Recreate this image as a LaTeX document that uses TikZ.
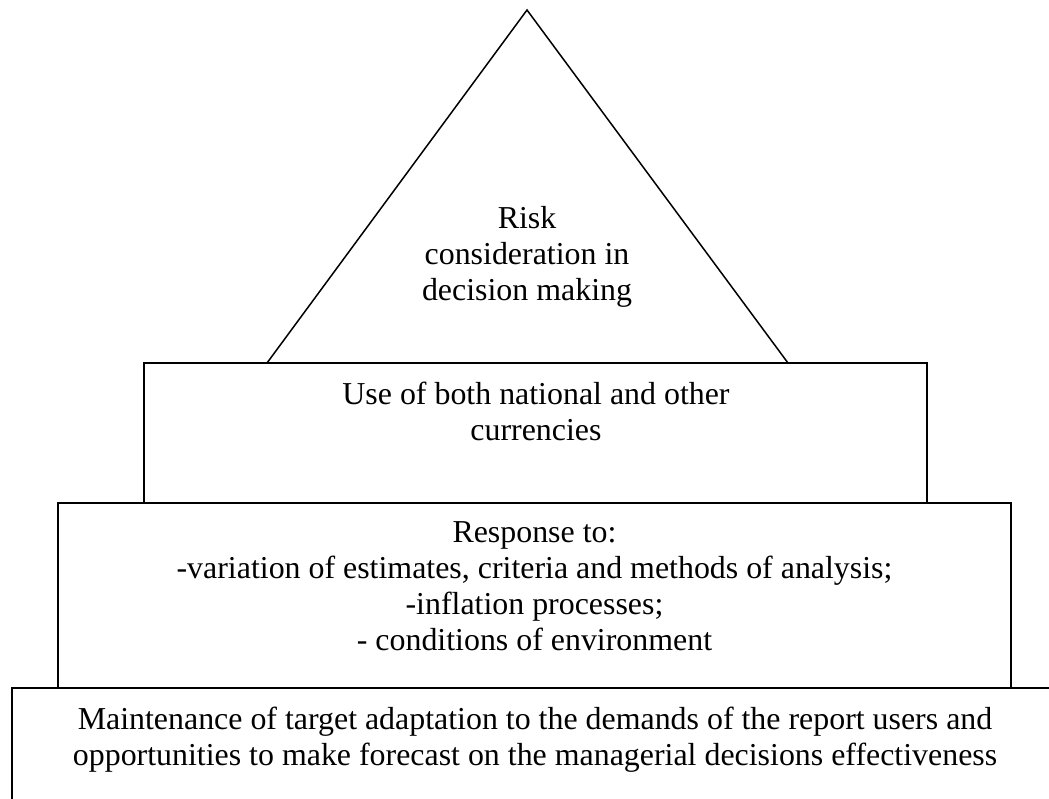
\documentclass[tikz,border=0pt]{standalone}
\usepackage{fontspec}
\setmainfont{Liberation Serif}
\begin{document}
\begin{tikzpicture}[x=1pt,y=-1pt,
  frame/.style={draw=black, line width=1.8pt, fill=none},
  edge/.style={draw=black, line width=1.5pt},
  label/.style={align=center, inner sep=0pt, anchor=base,
    font=\fontsize{31.9}{36}\selectfont}]
  \clip (0,0) rectangle (1049,798);
  \fill[white] (0,0) rectangle (1049,798);

  % pyramid tiers, bottom tier runs off the page
  \coordinate (apex) at (527,10);
  \coordinate (tl) at (267,363);
  \coordinate (tr) at (788,363);
  \draw[edge] (tl) -- (apex) -- (tr);
  \draw[frame] (144,363) rectangle (927,503);
  \draw[frame] (58,503) rectangle (1011,688);
  \draw[frame] (12,688) rectangle (1080,830);

  % labels are anchored on the baseline of their last line
  \node[label] (risk) at (527,300) {Risk\\consideration in\\decision making};
  \node[label] (curr) at (536,440) {Use of both national and other\\currencies};
  \node[label] (resp) at (534.5,650) {Response to:\\-variation of estimates, criteria and methods of analysis;\\-inflation processes;\\- conditions of environment};
  \node[label] (maint) at (535,765) {Maintenance of target adaptation to the demands of the report users and\\opportunities to make forecast on the managerial decisions effectiveness};
\end{tikzpicture}
\end{document}
